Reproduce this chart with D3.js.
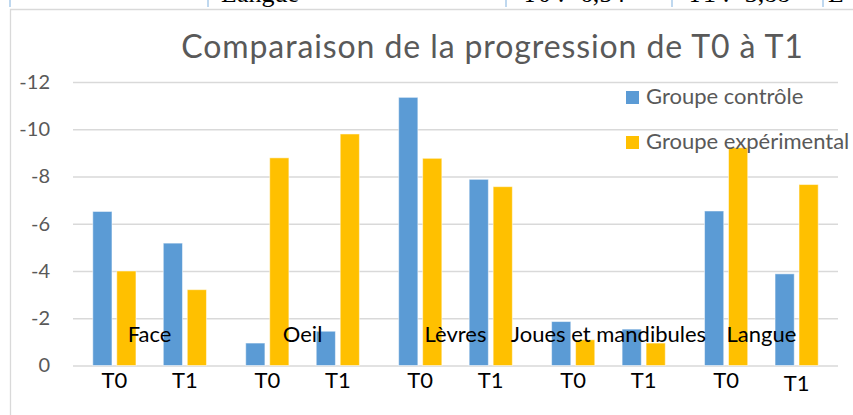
<!DOCTYPE html>
<html>
<head>
<meta charset="utf-8">
<script src="https://cdn.jsdelivr.net/npm/d3@7"></script>
<style>
  body { margin: 0; background: #fff; }
  text { font-family: Lato, 'Open Sans', sans-serif; }
</style>
</head>
<body>
<div id="chart"></div>
<script>
// données
const groupes = ['Face', 'Oeil', 'Lèvres', 'Joues et mandibules', 'Langue'];
const temps = ['T0', 'T1'];
const series = ['Groupe contrôle', 'Groupe expérimental'];
// valeurs par groupe : [T0, T1]
const controle = [[-6.52, -5.18], [-0.95, -1.45], [-11.35, -7.88], [-1.86, -1.54], [-6.54, -3.88]];
const experimental = [[-4.0, -3.21], [-8.79, -9.8], [-8.77, -7.57], [-1.09, -0.95], [-9.22, -7.66]];
const yTicks = [0, -2, -4, -6, -8, -10, -12];
// bout du tableau visible au dessus du graphique
const tableau = ['Langue', 'T0 : -6,54', 'T1 : -3,88', 'L'];

const color1 = '#5B9BD5';
const color2 = '#FFC000';

const width = 853;
const height = 415;
let [mt, mr, mb, ml] = [82, 15, 49.5, 73];

const svg = d3.select('#chart')
  .append('svg')
  .attr('width', width)
  .attr('height', height)
  .attr('viewBox', [0, 0, width, height])

svg.append('rect')
  .attr('width', width)
  .attr('height', height)
  .attr('fill', '#fff')

// tableau coupé en haut
const colX = [10, 208, 506, 672, 823];
svg.selectAll('.col')
  .data(colX)
  .enter()
  .append('line')
  .attr('x1', d => d).attr('x2', d => d)
  .attr('y1', 0).attr('y2', 7)
  .attr('stroke', '#9dc3e6')
  .attr('stroke-width', 1.3)
svg.selectAll('.cell')
  .data(tableau)
  .enter()
  .append('text')
  .attr('x', (d, i) => [221, 522, 687, 828][i])
  .attr('y', 2)
  .style('font-family', "'Liberation Serif', serif")
  .style('font-size', '26px')
  .attr('fill', '#000')
  .text(d => d)

// cadre du graphique
svg.append('path')
  .attr('d', `M10.5,${height} V9.5 H${width}`)
  .attr('fill', 'none')
  .attr('stroke', '#d9d9d9')
  .attr('stroke-width', 1.3)

const graphWidth = width - ml - mr;
const graphHeight = height - mt - mb;

const graph = svg.append('g')
  .attr('transform', `translate(${ml},${mt})`)

const y = d3.scaleLinear()
  .domain([0, -12])
  .range([graphHeight, 0])

const x0 = d3.scaleBand()
  .domain(groupes)
  .range([0, graphWidth])
  .paddingInner(0.078)
  .paddingOuter(0.04)

const x1 = d3.scaleBand()
  .domain(temps)
  .range([0, x0.bandwidth()])

const x2 = d3.scaleBand()
  .domain(series)
  .range([0, x1.bandwidth()])
  .paddingInner(0.2)
  .paddingOuter(0.57)

// grille
const yAxis = d3.axisLeft(y)
  .tickValues(yTicks)
  .tickSize(-graphWidth)
  .tickPadding(23)
  .tickFormat(d => String(d))

const yAxisG = graph.append('g').call(yAxis)
yAxisG.select('.domain').remove()
yAxisG.selectAll('line')
  .attr('stroke', '#d9d9d9')
  .attr('stroke-width', 1.3)
yAxisG.selectAll('text')
  .attr('fill', '#595959')
  .style('font-size', '20px')

// barres
const data = [];
groupes.forEach((g, i) => {
  temps.forEach((t, j) => {
    data.push({ groupe: g, temps: t, serie: series[0], value: controle[i][j] });
    data.push({ groupe: g, temps: t, serie: series[1], value: experimental[i][j] });
  });
});

graph.selectAll('.bar')
  .data(data)
  .enter()
  .append('rect')
  .attr('class', 'bar')
  .attr('x', d => x0(d.groupe) + x1(d.temps) + x2(d.serie))
  .attr('width', x2.bandwidth())
  .attr('y', d => y(d.value))
  .attr('height', d => y(0) - y(d.value))
  .attr('fill', d => d.serie === series[0] ? color1 : color2)
  .attr('stroke', '#fff')
  .attr('stroke-opacity', 0.5)
  .attr('stroke-width', 1)

// étiquettes T0 / T1
const ticks = [];
groupes.forEach(g => temps.forEach(t => ticks.push({ groupe: g, temps: t })));
graph.selectAll('.xlab')
  .data(ticks)
  .enter()
  .append('text')
  .attr('x', d => x0(d.groupe) + x1(d.temps) + x1.bandwidth() / 2)
  .attr('y', (d, i) => graphHeight + (i === ticks.length - 1 ? 25.5 : 22.5))
  .attr('text-anchor', 'middle')
  .attr('fill', '#000')
  .style('font-size', '22px')
  .text(d => d.temps)

// noms des zones
graph.selectAll('.glab')
  .data(groupes)
  .enter()
  .append('text')
  .attr('x', d => x0(d) + x0.bandwidth() / 2)
  .attr('y', graphHeight - 23.5)
  .attr('text-anchor', 'middle')
  .attr('fill', '#000')
  .style('font-size', '22px')
  .text(d => d)

// titre
svg.append('text')
  .attr('x', 492.5)
  .attr('y', 58)
  .attr('text-anchor', 'middle')
  .attr('fill', '#595959')
  .style('font-size', '32px')
  .style('letter-spacing', '0.9px')
  .text('Comparaison de la progression de T0 à T1')

// légende
const legend = svg.append('g')
  .attr('transform', 'translate(626,91)')
const item = legend.selectAll('g')
  .data(series)
  .enter()
  .append('g')
  .attr('transform', (d, i) => `translate(0,${i * 45})`)
item.append('rect')
  .attr('width', 13)
  .attr('height', 13)
  .attr('fill', (d, i) => i === 0 ? color1 : color2)
item.append('text')
  .attr('x', 20)
  .attr('y', 13)
  .attr('fill', '#595959')
  .style('font-size', '22px')
  .text(d => d)
</script>
</body>
</html>
